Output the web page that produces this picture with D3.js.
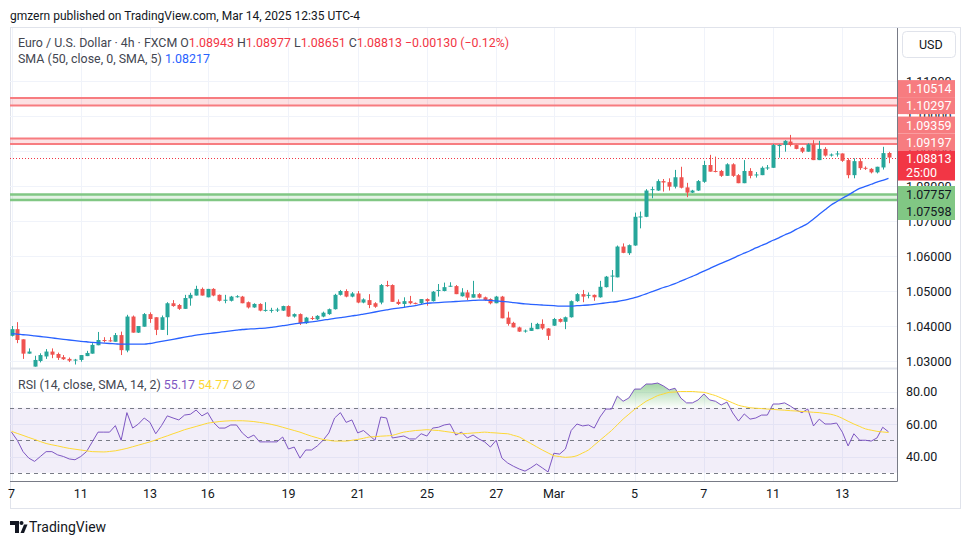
<!DOCTYPE html>
<html><head><meta charset="utf-8">
<script src="https://cdn.jsdelivr.net/npm/d3@7"></script>
<style>
html,body{margin:0;padding:0;background:#fff;}
svg{display:block;font-family:Roboto,"Noto Sans",sans-serif;}
</style></head><body>
<svg id="c" width="970" height="545"></svg>
<script>
// ---------- DATA (EUR/USD 4h, Feb 7 – Mar 14 2025) ----------
const opens = [1.0372,1.0391,1.0362,1.0321,1.0284,1.0300,1.0313,1.0327,1.0320,1.0311,1.0306,1.0302,1.0303,1.0314,1.0321,1.0345,1.0360,1.0359,1.0355,1.0374,
1.0330,1.0427,1.0381,1.0398,1.0434,1.0425,1.0389,1.0425,1.0465,1.0460,1.0449,1.0479,1.0487,1.0506,1.0482,1.0506,1.0489,1.0473,1.0472,1.0483,
1.0484,1.0468,1.0453,1.0463,1.0445,1.0445,1.0445,1.0444,1.0457,1.0427,1.0434,1.0408,1.0423,1.0419,1.0427,1.0434,1.0448,1.0489,1.0500,1.0484,
1.0493,1.0467,1.0474,1.0465,1.0467,1.0517,1.0517,1.0469,1.0463,1.0471,1.0466,1.0465,1.0477,1.0471,1.0502,1.0500,1.0513,1.0514,1.0485,1.0496,
1.0481,1.0491,1.0482,1.0477,1.0465,1.0484,1.0424,1.0409,1.0396,1.0385,1.0386,1.0391,1.0406,1.0393,1.0401,1.0420,1.0412,1.0425,1.0471,1.0491,
1.0488,1.0489,1.0482,1.0511,1.0542,1.0539,1.0627,1.0608,1.0630,1.0711,1.0712,1.0789,1.0787,1.0814,1.0811,1.0798,1.0825,1.0796,1.0781,1.0787,
1.0812,1.0860,1.0843,1.0843,1.0829,1.0862,1.0831,1.0808,1.0843,1.0832,1.0831,1.0851,1.0852,1.0916,1.0917,1.0927,1.0917,1.0909,1.0898,1.0919,
1.0874,1.0906,1.0887,1.0892,1.0893,1.0874,1.0831,1.0871,1.0852,1.0849,1.0839,1.0853,1.08943];
const highs = [1.0400,1.0411,1.0362,1.0336,1.0315,1.0322,1.0334,1.0336,1.0324,1.0317,1.0310,1.0306,1.0317,1.0329,1.0351,1.0383,1.0368,1.0368,1.0380,1.0384,
1.0432,1.0430,1.0400,1.0437,1.0439,1.0425,1.0430,1.0468,1.0474,1.0463,1.0489,1.0495,1.0515,1.0510,1.0506,1.0508,1.0490,1.0489,1.0486,1.0488,
1.0486,1.0470,1.0465,1.0465,1.0468,1.0452,1.0452,1.0458,1.0459,1.0436,1.0436,1.0426,1.0428,1.0431,1.0441,1.0450,1.0492,1.0503,1.0505,1.0497,
1.0500,1.0479,1.0491,1.0468,1.0520,1.0529,1.0519,1.0476,1.0482,1.0486,1.0467,1.0477,1.0479,1.0500,1.0520,1.0524,1.0525,1.0517,1.0508,1.0503,
1.0529,1.0494,1.0484,1.0479,1.0486,1.0486,1.0441,1.0412,1.0398,1.0390,1.0409,1.0409,1.0419,1.0394,1.0423,1.0422,1.0427,1.0473,1.0494,1.0503,
1.0496,1.0490,1.0529,1.0543,1.0560,1.0630,1.0636,1.0633,1.0724,1.0727,1.0791,1.0798,1.0819,1.0820,1.0822,1.0846,1.0855,1.0809,1.0789,1.0817,
1.0872,1.0889,1.0884,1.0846,1.0865,1.0865,1.0834,1.0874,1.0851,1.0840,1.0856,1.0860,1.0920,1.0919,1.0931,1.0946,1.0918,1.0912,1.0922,1.0931,
1.0929,1.0911,1.0893,1.0900,1.0893,1.0879,1.0879,1.0879,1.0856,1.0851,1.0855,1.0912,1.08977];
const lows = [1.0370,1.0351,1.0306,1.0321,1.0284,1.0296,1.0306,1.0308,1.0303,1.0303,1.0297,1.0290,1.0298,1.0314,1.0321,1.0345,1.0353,1.0355,1.0355,1.0317,
1.0325,1.0381,1.0380,1.0398,1.0409,1.0374,1.0389,1.0374,1.0455,1.0446,1.0449,1.0458,1.0487,1.0487,1.0482,1.0485,1.0470,1.0465,1.0470,1.0481,
1.0465,1.0450,1.0452,1.0442,1.0441,1.0438,1.0440,1.0443,1.0426,1.0424,1.0403,1.0406,1.0417,1.0417,1.0425,1.0432,1.0447,1.0487,1.0482,1.0482,
1.0465,1.0465,1.0451,1.0452,1.0462,1.0512,1.0469,1.0460,1.0453,1.0462,1.0462,1.0463,1.0458,1.0470,1.0484,1.0499,1.0512,1.0491,1.0484,1.0474,
1.0481,1.0479,1.0472,1.0462,1.0465,1.0422,1.0401,1.0396,1.0383,1.0381,1.0386,1.0391,1.0389,1.0360,1.0400,1.0410,1.0391,1.0424,1.0469,1.0468,
1.0479,1.0472,1.0481,1.0510,1.0498,1.0539,1.0608,1.0603,1.0629,1.0679,1.0711,1.0765,1.0786,1.0784,1.0787,1.0793,1.0793,1.0768,1.0780,1.0786,
1.0809,1.0841,1.0839,1.0826,1.0829,1.0826,1.0808,1.0808,1.0822,1.0824,1.0831,1.0846,1.0852,1.0881,1.0898,1.0913,1.0905,1.0894,1.0898,1.0874,
1.0874,1.0884,1.0884,1.0884,1.0869,1.0822,1.0822,1.0846,1.0846,1.0836,1.0836,1.0847,1.08651];
const closes = [1.0391,1.0360,1.0321,1.0327,1.0303,1.0317,1.0327,1.0318,1.0309,1.0305,1.0301,1.0304,1.0317,1.0323,1.0346,1.0360,1.0357,1.0357,1.0374,1.0331,
1.0427,1.0381,1.0400,1.0434,1.0420,1.0389,1.0425,1.0465,1.0457,1.0449,1.0480,1.0489,1.0506,1.0487,1.0506,1.0487,1.0472,1.0475,1.0484,1.0485,
1.0465,1.0453,1.0463,1.0444,1.0446,1.0446,1.0447,1.0457,1.0427,1.0434,1.0408,1.0424,1.0421,1.0429,1.0438,1.0448,1.0489,1.0500,1.0484,1.0493,
1.0467,1.0476,1.0460,1.0455,1.0517,1.0514,1.0469,1.0463,1.0471,1.0465,1.0465,1.0477,1.0471,1.0498,1.0503,1.0511,1.0515,1.0491,1.0496,1.0481,
1.0491,1.0481,1.0474,1.0465,1.0484,1.0422,1.0406,1.0396,1.0384,1.0387,1.0395,1.0406,1.0393,1.0372,1.0420,1.0412,1.0425,1.0471,1.0491,1.0484,
1.0489,1.0482,1.0512,1.0541,1.0544,1.0627,1.0609,1.0631,1.0712,1.0713,1.0787,1.0791,1.0814,1.0810,1.0798,1.0825,1.0795,1.0781,1.0787,1.0814,
1.0860,1.0841,1.0841,1.0829,1.0862,1.0829,1.0808,1.0843,1.0829,1.0833,1.0852,1.0853,1.0917,1.0917,1.0929,1.0917,1.0906,1.0898,1.0919,1.0874,
1.0906,1.0887,1.0890,1.0893,1.0872,1.0831,1.0871,1.0851,1.0850,1.0839,1.0855,1.0894,1.08813];
const sma50 = [1.0378,1.0377,1.0375,1.0374,1.0372,1.0370,1.0368,1.0366,1.0364,1.0362,1.0360,1.0358,1.0356,1.0355,1.0353,1.0352,1.0351,1.0350,1.0349,1.0348,
1.0348,1.0348,1.0348,1.0348,1.0350,1.0353,1.0356,1.0359,1.0362,1.0365,1.0368,1.0371,1.0374,1.0376,1.0378,1.0380,1.0382,1.0384,1.0386,1.0388,
1.0390,1.0391,1.0392,1.0393,1.0394,1.0396,1.0398,1.0401,1.0403,1.0406,1.0408,1.0410,1.0412,1.0414,1.0417,1.0419,1.0422,1.0424,1.0426,1.0429,
1.0431,1.0434,1.0437,1.0440,1.0443,1.0446,1.0449,1.0451,1.0453,1.0456,1.0458,1.0462,1.0465,1.0466,1.0467,1.0468,1.0469,1.0470,1.0471,1.0472,
1.0473,1.0474,1.0474,1.0473,1.0472,1.0470,1.0469,1.0467,1.0465,1.0463,1.0462,1.0461,1.0460,1.0459,1.0458,1.0457,1.0457,1.0457,1.0458,1.0459,
1.0460,1.0462,1.0464,1.0466,1.0468,1.0470,1.0473,1.0477,1.0481,1.0486,1.0492,1.0498,1.0504,1.0510,1.0515,1.0521,1.0528,1.0535,1.0542,1.0549,
1.0557,1.0564,1.0572,1.0579,1.0586,1.0593,1.0601,1.0608,1.0615,1.0623,1.0630,1.0637,1.0645,1.0652,1.0660,1.0667,1.0676,1.0684,1.0693,1.0706,
1.0719,1.0732,1.0745,1.0755,1.0765,1.0774,1.0784,1.0793,1.0799,1.0805,1.0811,1.0816,1.08217];
const rsi = [55,50,43,39,37,40,43,43,41,40,38.5,38,40,43,49,55,55,55,59,50,
67,57.5,60,63.7,61,54,59,65,63.7,62.5,65.5,66,68.6,65,67,61,57.5,57.5,59.4,59.4,
54.5,51.4,53.2,49,49,49,49,52,44.6,45.8,39,44,44,46.5,50,54.5,63.7,67,61,62.5,
54.5,56,53,50,64.3,63.7,51.4,52,52.6,50.8,50.8,54,52.6,57.5,58,59.4,60,53.2,55,51.4,
53.2,50.8,49,45.8,50,39,36,34,32.3,31,33,35.4,33,30.5,42,41.5,44.6,56,60,58.8,
59.4,57.5,64.3,69.2,69.2,77.2,74,76,81.5,81.5,84.6,84.6,85.2,83.4,81,82,76,73,73,74.8,
78.5,74.8,74,71.7,73.5,66.8,61.8,66.2,63,63.7,65.5,65.5,72.3,72.3,73,71,68.6,67,69.2,58.8,
63,60,60,60.6,55,46.5,54,50,50,49.5,51.4,58,55.17];
const rsiMa = [55.5,54.2,53,51.7,50.5,49.2,48,47.2,46.5,45.7,45,44.5,44,43.5,43,42.9,42.8,43.1,43.5,44.2,
45,46,47,48,49,50.2,51.5,52.7,54,55.2,56.5,57.5,58.5,59.5,60.5,61,61.5,61.8,62,62,
62,61.8,61.5,61,60.5,59.8,59,58,57,56,55,53.7,52.5,51.5,50.5,50,49.5,49.5,49.5,50,
50.5,51.2,52,52.2,52.5,52.7,53,54,55,55.5,56,56.2,56.5,56.2,56,55.5,55,54.5,54,54.2,
54.5,54.7,55,54.7,54.5,54.2,54,53,52,50,48,46,44,42.2,40.5,40,39.5,39.7,40.5,42.2,
44,47,50,53,56,59.5,63,66,69,71.5,74,75.7,77.5,78.5,79.5,79.7,80,80,80,79.7,
79.5,78.5,77.5,76,74.5,73,71.5,70.7,70,69.7,69.5,69.2,69,68.7,68.5,68.2,68,67.7,67.5,67.2,
67,66.5,66,65,63.5,61.7,60,58.5,57,56.2,55.5,55.1,54.77];
const tickLabels = ["7","11","13","16","19","21","25","27","Mar","5","7","11","13"];
const tickBars   = [0,12,24,34,48,60,72,84,94,108,120,132,144];
const priceTicks = [1.03,1.04,1.05,1.06,1.07,1.08,1.09,1.10,1.11];
const rsiTicks = [40,60,80];
const rsiLevels = [70,50,30];
const redZones = [[1.10514,1.10297],[1.09359,1.09197]];
const greenZones = [[1.07757,1.07598]];
const countdown = "25:00";

// ---------- LAYOUT ----------
const svg = d3.select("#c");
const L = 10, R = 897.5, T = 28, MB = 368, RT = 369, RB = 481.5;
const n = closes.length;
const x = d3.scaleLinear().domain([0, n-1]).range([11.5, 888.5]);
const yP = d3.scaleLinear().domain([1.03, 1.11]).range([361, 81]);
const yR = d3.scaleLinear().domain([30, 80]).range([472.75, 391.5]);
const UP = "#26a69a", DN = "#ef5350";
const textCol = "#131722";

const defs = svg.append("defs");
defs.append("clipPath").attr("id","cm").append("rect").attr("x",L).attr("y",T).attr("width",R-L).attr("height",MB-T);
defs.append("clipPath").attr("id","cr").append("rect").attr("x",L).attr("y",RT).attr("width",R-L).attr("height",RB-RT);
const g = defs.append("linearGradient").attr("id","ob").attr("gradientUnits","userSpaceOnUse")
  .attr("x1",0).attr("x2",0).attr("y1",yR(86)).attr("y2",yR(70));
g.append("stop").attr("offset",0).attr("stop-color","#4caf50").attr("stop-opacity",0.55);
g.append("stop").attr("offset",1).attr("stop-color","#4caf50").attr("stop-opacity",0.02);

// header
svg.append("text").attr("x",10).attr("y",19.5).attr("font-size",12).attr("fill",textCol)
  .text("gmzern published on TradingView.com, Mar 14, 2025 12:35 UTC-4");

// frame
svg.append("rect").attr("x",10.5).attr("y",27.5).attr("width",950).attr("height",481)
  .attr("fill","none").attr("stroke","#e0e3eb");

// grid
const grid = svg.append("g").attr("stroke","#f0f3fa").attr("stroke-width",1);
tickBars.forEach(b => {
  const xx = Math.round(x(b))+0.5;
  grid.append("line").attr("x1",xx).attr("x2",xx).attr("y1",T).attr("y2",MB);
  grid.append("line").attr("x1",xx).attr("x2",xx).attr("y1",RT).attr("y2",RB);
});
priceTicks.forEach(p => {
  const yy = Math.round(yP(p))+0.5;
  grid.append("line").attr("x1",L).attr("x2",R).attr("y1",yy).attr("y2",yy);
});
rsiTicks.forEach(v => {
  const yy = Math.round(yR(v))+0.5;
  grid.append("line").attr("x1",L).attr("x2",R).attr("y1",yy).attr("y2",yy);
});

// main pane
const main = svg.append("g").attr("clip-path","url(#cm)");
redZones.forEach(([a,b]) => {
  main.append("rect").attr("x",L).attr("width",R-L).attr("y",yP(a)).attr("height",yP(b)-yP(a)).attr("fill","#f23645").attr("fill-opacity",0.15);
  [a,b].forEach(p => main.append("line").attr("x1",L).attr("x2",R).attr("y1",yP(p)).attr("y2",yP(p)).attr("stroke","#f77c80").attr("stroke-width",2));
});
greenZones.forEach(([a,b]) => {
  main.append("rect").attr("x",L).attr("width",R-L).attr("y",yP(a)).attr("height",yP(b)-yP(a)).attr("fill","#4caf50").attr("fill-opacity",0.15);
  [a,b].forEach(p => main.append("line").attr("x1",L).attr("x2",R).attr("y1",yP(p)).attr("y2",yP(p)).attr("stroke","#81c784").attr("stroke-width",2.5));
});
const last = closes[n-1];
main.append("line").attr("x1",L).attr("x2",R).attr("y1",Math.round(yP(last))+0.5).attr("y2",Math.round(yP(last))+0.5)
  .attr("stroke","#f23645").attr("stroke-dasharray","1,2");

const idx = d3.range(n);
const cg = main.append("g");
cg.selectAll("line.w").data(idx).join("line")
  .attr("x1",i=>Math.round(x(i))+0.5).attr("x2",i=>Math.round(x(i))+0.5)
  .attr("y1",i=>yP(highs[i])).attr("y2",i=>yP(lows[i]))
  .attr("stroke",i=>closes[i]>=opens[i]?UP:DN).attr("stroke-width",1);
cg.selectAll("rect.b").data(idx).join("rect")
  .attr("x",i=>Math.round(x(i))-1.5).attr("width",4)
  .attr("y",i=>yP(Math.max(opens[i],closes[i])))
  .attr("height",i=>Math.max(1,yP(Math.min(opens[i],closes[i]))-yP(Math.max(opens[i],closes[i]))))
  .attr("fill",i=>closes[i]>=opens[i]?UP:DN);
main.append("path").attr("d",d3.line().x((d,i)=>x(i)).y(d=>yP(d)).curve(d3.curveMonotoneX)(sma50))
  .attr("fill","none").attr("stroke","#2962ff").attr("stroke-width",1.3);

// legend main
const lg = svg.append("text").attr("x",18).attr("y",47).attr("font-size",12.4).attr("fill","#434651");
lg.append("tspan").text("Euro / U.S. Dollar · 4h · FXCM  ");
[["O","1.08943"],["H","1.08977"],["L","1.08651"],["C","1.08813"]].forEach(([k,v])=>{
  lg.append("tspan").text(" "+k); lg.append("tspan").attr("fill","#f23645").text(v);
});
lg.append("tspan").attr("fill","#f23645").text("  −0.00130 (−0.12%)");
const lg2 = svg.append("text").attr("x",18).attr("y",63).attr("font-size",12.4).attr("fill","#434651");
lg2.append("tspan").text("SMA (50, close, 0, SMA, 5)  ");
lg2.append("tspan").attr("fill","#2962ff").text(d3.format(".5f")(sma50[n-1]));

// pane separator
svg.append("line").attr("x1",L).attr("x2",R).attr("y1",368.5).attr("y2",368.5).attr("stroke","#e0e3eb").attr("stroke-width",2);

// RSI pane
const rp = svg.append("g").attr("clip-path","url(#cr)");
rp.append("rect").attr("x",L).attr("width",R-L).attr("y",yR(70)).attr("height",yR(30)-yR(70)).attr("fill","#7e57c2").attr("fill-opacity",0.1);
rsiLevels.forEach(v => rp.append("line").attr("x1",L).attr("x2",R).attr("y1",Math.round(yR(v))+0.5).attr("y2",Math.round(yR(v))+0.5)
  .attr("stroke","#787b86").attr("stroke-dasharray","4,4"));
rp.append("path").attr("d",d3.area().x((d,i)=>x(i)).y0(yR(70)).y1(d=>yR(Math.max(d,70)))(rsi)).attr("fill","url(#ob)");
rp.append("path").attr("d",d3.line().x((d,i)=>x(i)).y(d=>yR(d))(rsi)).attr("fill","none").attr("stroke","#7e57c2").attr("stroke-width",1);
rp.append("path").attr("d",d3.line().x((d,i)=>x(i)).y(d=>yR(d)).curve(d3.curveMonotoneX)(rsiMa)).attr("fill","none").attr("stroke","#fdd835").attr("stroke-width",1);
const rl = svg.append("text").attr("x",18).attr("y",388.5).attr("font-size",12.4).attr("fill","#434651");
rl.append("tspan").text("RSI (14, close, SMA, 14, 2)  ");
rl.append("tspan").attr("fill","#7e57c2").text(d3.format(".2f")(rsi[n-1]));
rl.append("tspan").attr("fill","#fdd835").text("  "+d3.format(".2f")(rsiMa[n-1]));
rl.append("tspan").text("  ∅  ∅");

// axes lines
svg.append("line").attr("x1",R).attr("x2",R).attr("y1",T).attr("y2",RB).attr("stroke","#787b86");
svg.append("line").attr("x1",L).attr("x2",R).attr("y1",RB).attr("y2",RB).attr("stroke","#787b86");

// price labels on axis (layout first, so hidden ticks can be skipped)
const H = 17;
const cy0 = yP(last);
const curTop = cy0 - 7, curBot = curTop + 30;
const lv = [];
redZones.forEach(z=>z.forEach(p=>lv.push({p, fill:"#f77c80", tc:"#fff"})));
greenZones.forEach(z=>z.forEach(p=>lv.push({p, fill:"#81c784", tc:"#131722"})));
const above = lv.filter(d=>yP(d.p)<cy0).sort((a,b)=>yP(b.p)-yP(a.p));
const below = lv.filter(d=>yP(d.p)>=cy0).sort((a,b)=>yP(a.p)-yP(b.p));
let lim = curTop;
above.forEach(d=>{ d.cy = Math.min(yP(d.p), lim - H/2); lim = d.cy - H/2; });
lim = curBot;
below.forEach(d=>{ d.cy = Math.max(yP(d.p), lim + H/2); lim = d.cy + H/2; });
const boxes = lv.map(d=>[d.cy-H/2, d.cy+H/2]).concat([[curTop, curBot]]);
const covered = yy => boxes.some(([a,b]) => yy-5 >= a-1 && yy+5 <= b+1);

// price axis tick labels
const pax = svg.append("g").attr("font-size",12.5).attr("fill",textCol);
priceTicks.filter(p=>!covered(yP(p))).forEach(p => pax.append("text").attr("x",906).attr("y",yP(p)+4.5).text(d3.format(".5f")(p)));
rsiTicks.forEach(v => pax.append("text").attr("x",906).attr("y",yR(v)+4.5).text(d3.format(".2f")(v)));

// x axis labels
const xax = svg.append("g").attr("font-size",12.5).attr("fill",textCol).attr("text-anchor","middle");
tickBars.forEach((b,k)=> xax.append("text").attr("x",x(b)).attr("y",498).text(tickLabels[k]));

const lab = svg.append("g").attr("font-size",12.5);
lv.forEach(d=>{
  lab.append("rect").attr("x",898).attr("y",d.cy-H/2).attr("width",57).attr("height",H).attr("fill",d.fill);
  lab.append("text").attr("x",906).attr("y",d.cy+4.5).attr("fill",d.tc).text(d3.format(".5f")(d.p));
});
lab.append("rect").attr("x",898).attr("y",curTop).attr("width",57).attr("height",30).attr("fill","#f23645");
lab.append("text").attr("x",906).attr("y",cy0+5).attr("fill","#fff").text(d3.format(".5f")(last));
lab.append("text").attr("x",906).attr("y",cy0+19.5).attr("fill","#fff").text(countdown);

// USD button
svg.append("rect").attr("x",902.5).attr("y",31.5).attr("width",53).attr("height",26).attr("rx",4).attr("fill","#fff").attr("stroke","#e0e3eb");
svg.append("text").attr("x",919).attr("y",49).attr("font-size",12.5).attr("fill",textCol).text("USD");

// footer
const ft = svg.append("g").attr("fill","#131722");
ft.append("path").attr("d","M10 521 h9 v12 h-4 v-8 h-5 z");
ft.append("circle").attr("cx",21.5).attr("cy",523).attr("r",2);
ft.append("path").attr("d","M20.5 533 l3.5 -8.5 h3.5 l-3.5 8.5 z");
svg.append("text").attr("x",29).attr("y",532).attr("font-size",14).attr("fill","#131722").text("TradingView");
</script>
</body></html>
